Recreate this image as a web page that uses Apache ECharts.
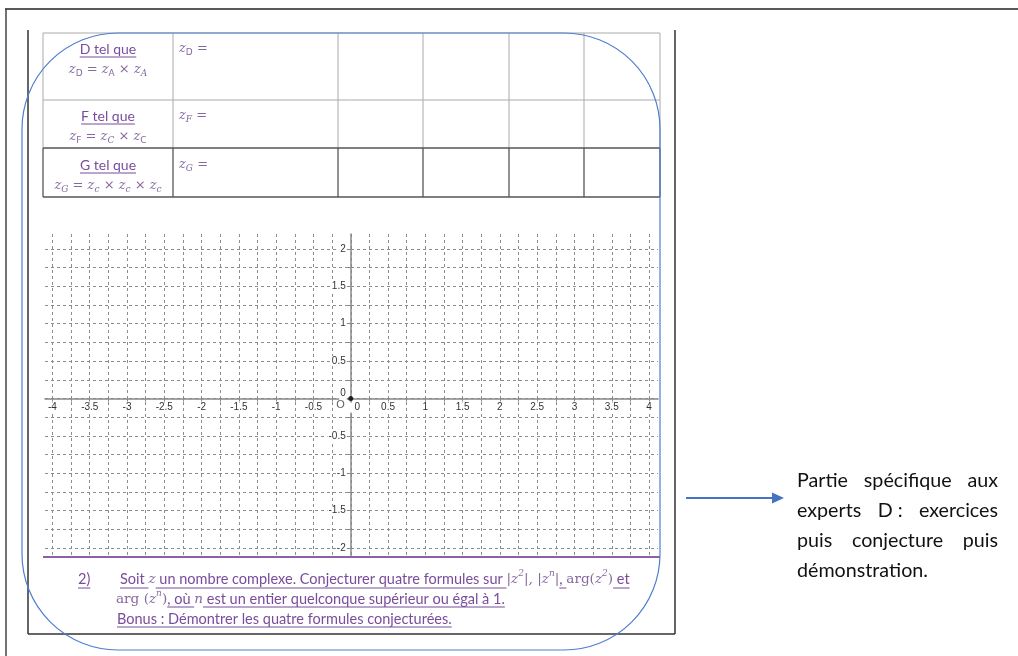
<!DOCTYPE html>
<html><head><meta charset="utf-8">
<script src="https://cdn.jsdelivr.net/npm/echarts@6/dist/echarts.min.js"></script>
<style>html,body{margin:0;padding:0;background:#fff}#c{width:1018px;height:656px}</style>
</head><body><div id="c"></div>
<script>
// ---- data ----
const gridXValues = [-4,-3.75,-3.5,-3.25,-3,-2.75,-2.5,-2.25,-2,-1.75,-1.5,-1.25,-1,-0.75,-0.5,-0.25,0,0.25,0.5,0.75,1,1.25,1.5,1.75,2,2.25,2.5,2.75,3,3.25,3.5,3.75,4];
const gridYValues = [-2,-1.75,-1.5,-1.25,-1,-0.75,-0.5,-0.25,0,0.25,0.5,0.75,1,1.25,1.5,1.75,2];
const xLabelValues = [-4,-3.5,-3,-2.5,-2,-1.5,-1,-0.5,0,0.5,1,1.5,2,2.5,3,3.5,4];
const yLabelValues = [-2,-1.5,-1,-0.5,0,0.5,1,1.5,2];
const xRange = [-4.1, 4.12];
const yRange = [-2.1, 2.2];
const originPoint = [[0, 0]];
const originName = 'O';
const tableRows = ['D', 'F', 'G'];
const rightText = [['Partie', 'spécifique', 'aux'], ['experts', 'D :', 'exercices'], ['puis', 'conjecture', 'puis'], ['démonstration.']];
const bonusText = 'Bonus : Démontrer les quatre formules conjecturées.';

// ---- helpers ----
const mctx = document.createElement('canvas').getContext('2d');
function tw(t, f) { mctx.font = f; return mctx.measureText(t).width; }
const PURPLE = '#7a4d9c', MPURPLE = '#85689f';
const BODYFAM = 'Lato, "Open Sans", sans-serif';
const bodySize = 335 / tw(bonusText, '100px ' + BODYFAM) * 100;
const BODY = bodySize.toFixed(2) + 'px ' + BODYFAM;
const MI = 'italic 13px "DejaVu Serif", serif';
const MU = '13px "DejaVu Serif", serif';
const BMI = 'italic 13.6px "DejaVu Serif", serif';
const BMU = '13.6px "DejaVu Serif", serif';
const SUP = 'italic 9px "DejaVu Serif", serif';
const SUB = '9px "DejaVu Sans", sans-serif';
const SUBI = 'italic 9px "DejaVu Serif", serif';
const els = [];
function segWidth(segs) { return segs.reduce((a, s) => a + tw(s.t, s.f), 0); }
function run(segs, x0, y, ulY, color) {
  let x = x0;
  segs.forEach(s => {
    const w = tw(s.t, s.f);
    els.push({ type: 'text', x: x, y: y + (s.dy || 0), silent: true, z: 10,
      style: { text: s.t, font: s.f, fill: s.c || color, align: 'left', verticalAlign: 'middle' } });
    if (s.u) els.push({ type: 'line', silent: true, z: 10, shape: { x1: x, y1: ulY, x2: x + w, y2: ulY }, style: { stroke: s.c || color, lineWidth: 1 } });
    x += w;
  });
  return x;
}
function line(x1, y1, x2, y2, stroke, w, z) {
  els.push({ type: 'line', silent: true, z: z || 5, shape: { x1, y1, x2, y2 }, style: { stroke, lineWidth: w } });
}

// outer frame
line(5, 9, 1018, 9, '#222', 1.5);
line(6, 9, 6, 656, '#444', 1.5);
// page box
line(28, 30, 28, 634, '#333', 1.5);
line(675, 30, 675, 634, '#333', 1.5);
line(28, 634, 675, 634, '#333', 1.5);

// table
const colX = [43, 173, 338, 423, 509, 584, 660];
const rowY = [33, 100, 148, 197];
for (let r = 0; r < 3; r++) {
  const dark = r === 2;
  const st = dark ? '#555' : '#aaa';
  colX.forEach(cx => line(cx, rowY[r], cx, rowY[r + 1], st, dark ? 1.3 : 1));
}
line(43, 33, 660, 33, '#aaa', 1);
line(43, 100, 660, 100, '#aaa', 1);
line(43, 148, 660, 148, '#555', 1.3);
line(43, 197, 660, 197, '#555', 1.3);

const headY = [49, 116, 165];
const formulas = [
  [{ t: 'z', f: MI }, { t: 'D', f: SUB, dy: 4 }, { t: ' = ', f: MU }, { t: 'z', f: MI }, { t: 'A', f: SUB, dy: 4 }, { t: ' × ', f: MU }, { t: 'z', f: MI }, { t: 'A', f: SUBI, dy: 4 }],
  [{ t: 'z', f: MI }, { t: 'F', f: SUB, dy: 4 }, { t: ' = ', f: MU }, { t: 'z', f: MI }, { t: 'C', f: SUBI, dy: 4 }, { t: ' × ', f: MU }, { t: 'z', f: MI }, { t: 'C', f: SUB, dy: 4 }],
  [{ t: 'z', f: MI }, { t: 'G', f: SUBI, dy: 4 }, { t: ' = ', f: MU }, { t: 'z', f: MI }, { t: 'c', f: SUBI, dy: 4 }, { t: ' × ', f: MU }, { t: 'z', f: MI }, { t: 'c', f: SUBI, dy: 4 }, { t: ' × ', f: MU }, { t: 'z', f: MI }, { t: 'c', f: SUBI, dy: 4 }]
];
const cellFont = '14px ' + BODYFAM;
tableRows.forEach((name, i) => {
  const head = [{ t: name + ' tel que', f: cellFont, u: true }];
  run(head, 108 - segWidth(head) / 2, headY[i], headY[i] + 8, PURPLE);
  const fm = formulas[i];
  run(fm, 108 - segWidth(fm) / 2, headY[i] + 21, 0, MPURPLE);
  const c2 = [{ t: 'z', f: MI }, { t: name, f: i === 0 ? SUB : SUBI, dy: 4 }, { t: ' =', f: MU }];
  run(c2, 179, headY[i], 0, MPURPLE);
});

// purple separator
line(43, 557, 660, 557, '#8d5fa6', 2);

// bottom text
const SUPdy = -5;
run([{ t: '2)', f: BODY, u: true }], 78, 579, 588, PURPLE);
run([
  { t: 'Soit ', f: BODY, u: true }, { t: 'z', f: BMI, c: MPURPLE },
  { t: ' un nombre complexe. Conjecturer quatre formules sur ', f: BODY, u: true },
  { t: '|z', f: BMI, c: MPURPLE }, { t: '2', f: SUP, dy: SUPdy, c: MPURPLE }, { t: '|, |z', f: BMI, c: MPURPLE }, { t: 'n', f: SUP, dy: SUPdy, c: MPURPLE }, { t: '|', f: BMI, c: MPURPLE },
  { t: ', ', f: BODY, u: true }, { t: 'arg(', f: BMU, c: MPURPLE }, { t: 'z', f: BMI, c: MPURPLE }, { t: '2', f: SUP, dy: SUPdy, c: MPURPLE }, { t: ')', f: BMU, c: MPURPLE },
  { t: ' et', f: BODY, u: true }
], 120, 579, 588, PURPLE);
run([
  { t: 'arg (', f: BMU, c: MPURPLE }, { t: 'z', f: BMI, c: MPURPLE }, { t: 'n', f: SUP, dy: SUPdy, c: MPURPLE }, { t: ')', f: BMU, c: MPURPLE },
  { t: ', où ', f: BODY, u: true }, { t: 'n', f: BMI, c: MPURPLE },
  { t: ' est un entier quelconque supérieur ou égal à 1.', f: BODY, u: true }
], 116, 599, 607, PURPLE);
run([{ t: bonusText, f: BODY, u: true }], 117, 619, 627, PURPLE);

// arrow
line(686, 498, 774, 498, '#4472c4', 2);
els.push({ type: 'polygon', silent: true, z: 10, shape: { points: [[784, 498], [772, 492.5], [772, 503.5]] }, style: { fill: '#4472c4' } });

// right paragraph (justified)
const RFAM = 'Lato, "Open Sans", sans-serif';
const rSize = 131 / tw('démonstration.', '100px ' + RFAM) * 100;
const RFONT = rSize.toFixed(2) + 'px ' + RFAM;
const rLeft = 797, rRight = 998, rY = [481, 511, 541, 571];
rightText.forEach((words, li) => {
  if (words.length === 1) {
    run([{ t: words[0], f: RFONT }], rLeft, rY[li], 0, '#111');
    return;
  }
  const total = words.reduce((a, w) => a + tw(w, RFONT), 0);
  const gap = (rRight - rLeft - total) / (words.length - 1);
  let x = rLeft;
  words.forEach(w => { run([{ t: w, f: RFONT }], x, rY[li], 0, '#111'); x += tw(w, RFONT) + gap; });
});

// blue rounded frame
els.push({ type: 'rect', silent: true, z: 100, shape: { x: 22, y: 33, width: 638, height: 617, r: 96 }, style: { fill: 'none', stroke: '#4f7fcf', lineWidth: 1.2 } });

// ---- chart ----
const G = { left: 45, top: 234, width: 613, height: 321.6 };
// place axis lines through the origin
const xAxisOffset = -((0 - yRange[0]) / (yRange[1] - yRange[0]) * G.height);
const yAxisOffset = -((0 - xRange[0]) / (xRange[1] - xRange[0]) * G.width);
const chart = echarts.init(document.getElementById('c'), null, { renderer: 'canvas' });
const labelCommon = { fontSize: 10, color: '#333', fontFamily: '"Liberation Sans", Arial, sans-serif', backgroundColor: '#fff', padding: [0, 1] };
chart.setOption({
  animation: false,
  backgroundColor: '#fff',
  grid: { left: G.left, top: G.top, width: G.width, height: G.height, containLabel: false, outerBoundsMode: 'none' },
  xAxis: {
    type: 'value', min: xRange[0], max: xRange[1], position: 'bottom', offset: xAxisOffset,
    axisLine: { onZero: false, lineStyle: { color: '#888', width: 1.5 } },
    axisTick: { show: true, length: 3, customValues: gridXValues, lineStyle: { color: '#888' } },
    splitLine: { show: true, lineStyle: { color: '#8c8c8c', width: 1, type: [3, 3] } },
    axisLabel: Object.assign({}, labelCommon, {
      customValues: xLabelValues, margin: 4,
      formatter: v => v === 0 ? '{o|0}' : String(v),
      rich: { o: { padding: [0, 0, 0, 13], fontSize: 10, color: '#333' } }
    })
  },
  yAxis: {
    type: 'value', min: yRange[0], max: yRange[1], position: 'left', offset: yAxisOffset,
    axisLine: { onZero: false, lineStyle: { color: '#888', width: 1.5 } },
    axisTick: { show: true, length: 3, customValues: gridYValues, lineStyle: { color: '#888' } },
    splitLine: { show: true, lineStyle: { color: '#8c8c8c', width: 1, type: [3, 3] } },
    axisLabel: Object.assign({}, labelCommon, {
      customValues: yLabelValues, margin: 4,
      formatter: v => v === 0 ? '{o|0}' : String(v),
      rich: { o: { padding: [0, 0, 10, 0], fontSize: 10, color: '#333' } }
    })
  },
  series: [{
    type: 'scatter', data: originPoint, symbolSize: 5, itemStyle: { color: '#000' }, z: 5,
    label: { show: true, formatter: originName, position: [-12, 3], fontSize: 11, color: '#333', fontFamily: '"Liberation Sans", Arial, sans-serif' }
  }],
  graphic: { elements: els }
});
</script></body></html>
